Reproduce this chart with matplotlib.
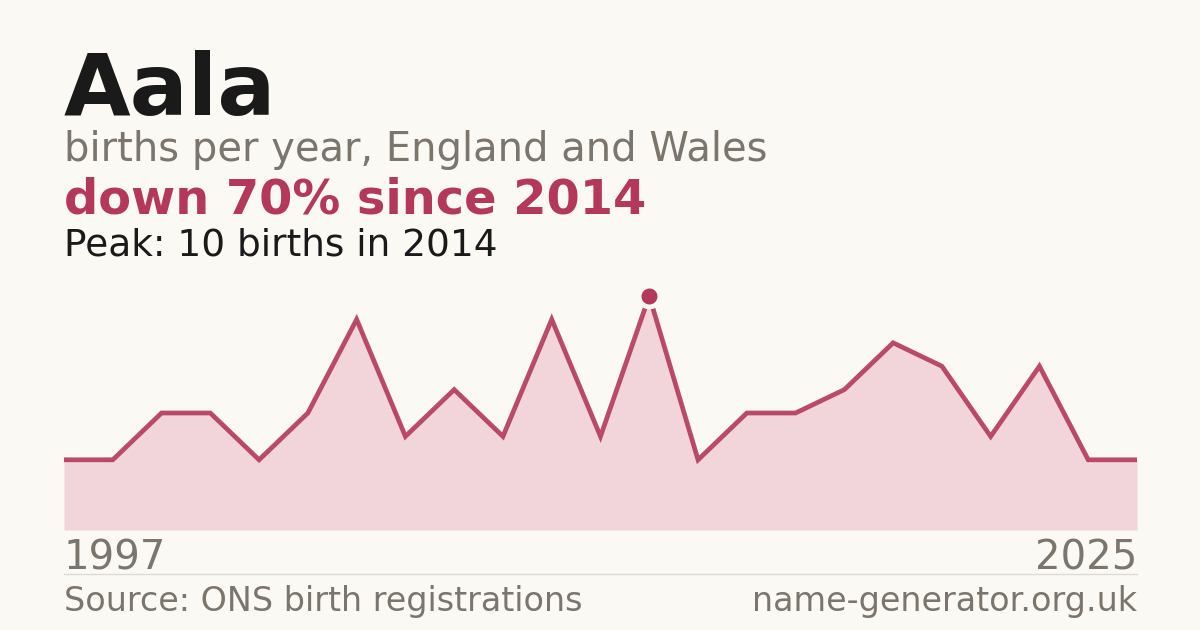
import matplotlib
matplotlib.use("Agg")
import matplotlib.pyplot as plt
import numpy as np

# Data
years = [1997, 1998, 2000, 2001, 2002, 2004, 2005, 2007, 2008, 2010, 2011, 2013,
         2014, 2015, 2016, 2017, 2018, 2019, 2020, 2021, 2022, 2024, 2025]
births = [3, 3, 5, 5, 3, 5, 9, 4, 6, 4, 9, 4,
          10, 3, 5, 5, 6, 8, 7, 4, 7, 3, 3]

name = "Aala"
subtitle = "births per year, England and Wales"
headline = "down 70% since 2014"
peak_text = "Peak: 10 births in 2014"
source = "Source: ONS birth registrations"
site = "name-generator.org.uk"

BG = "#faf9f4"
CRIMSON = "#b3385a"
FILL = "#f2d5da"
GREY = "#7a756d"
DARK = "#1a1a1a"

W, H = 1200, 630
fig = plt.figure(figsize=(12, 6.3), dpi=100, facecolor=BG)

x = np.arange(len(years))
ax = fig.add_axes([64 / W, (H - 530) / H, (1137 - 64) / W, 250 / H])
ax.set_facecolor(BG)
ax.fill_between(x, births, 0, color=FILL, linewidth=0, zorder=1)
ax.plot(x, births, color=CRIMSON, linewidth=3.4, alpha=0.9, solid_joinstyle="miter", zorder=2)
pk = int(np.argmax(births))
ax.plot([x[pk]], [births[pk]], marker="o", markersize=15, color=CRIMSON,
        markeredgecolor=BG, markeredgewidth=3.5, zorder=3, clip_on=False)
ax.set_xlim(x[0], x[-1])
ax.set_ylim(0, 250 / 23.4)
ax.axis("off")

def px(xp, yp):
    return xp / W, 1 - yp / H

fig.text(*px(64, 115), name, fontsize=62, fontweight="bold", color=DARK, va="baseline", ha="left")
fig.text(*px(64, 161), subtitle, fontsize=28.8, color=GREY, va="baseline", ha="left")
fig.text(*px(64, 214), headline, fontsize=34.5, fontweight="bold", color=CRIMSON, va="baseline", ha="left")
fig.text(*px(64, 255), peak_text, fontsize=27, color=DARK, va="baseline", ha="left")
fig.text(*px(64, 570), str(years[0]), fontsize=28.9, color=GREY, va="baseline", ha="left")
fig.text(*px(1137, 570), str(years[-1]), fontsize=28.9, color=GREY, va="baseline", ha="right")
fig.add_artist(plt.Line2D([64 / W, 1137 / W], [1 - 574 / H, 1 - 574 / H], color="#dedbd4", linewidth=1))
fig.text(*px(64, 611), source, fontsize=24, color=GREY, va="baseline", ha="left")
fig.text(*px(1137, 611), site, fontsize=24, color=GREY, va="baseline", ha="right")

fig.savefig("out.png", dpi=100, facecolor=BG)
